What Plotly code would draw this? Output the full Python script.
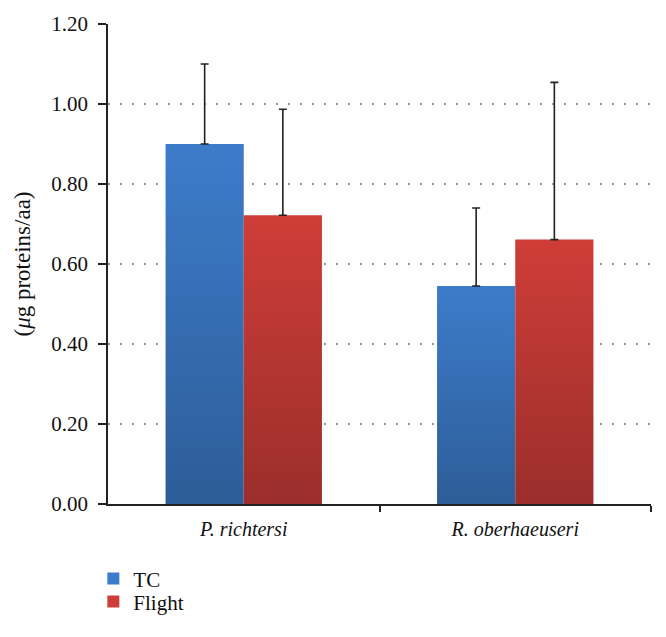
import plotly.graph_objects as go

categories = ["P. richtersi", "R. oberhaeuseri"]
series_names = ["TC", "Flight"]
tc_values = [0.90, 0.545]
flight_values = [0.722, 0.661]
tc_sd = [0.20, 0.195]
flight_sd = [0.265, 0.393]
y_tick_values = [0.0, 0.2, 0.4, 0.6, 0.8, 1.0, 1.2]
y_tick_labels = ["0.00", "0.20", "0.40", "0.60", "0.80", "1.00", "1.20"]

FONT = "Liberation Serif, Times New Roman, serif"
bar_w = 0.288  # width of one bar in category units
styles = {
    "TC": dict(top="#3d7cca", bottom="#2d5d98", offset=-1, legend="legend", ly=-0.113),
    "Flight": dict(top="#cf3d38", bottom="#9b2e2b", offset=0, legend="legend2", ly=-0.161),
}
series = {"TC": (tc_values, tc_sd), "Flight": (flight_values, flight_sd)}

fig = go.Figure()
for name in series_names:
    vals, sds = series[name]
    st = styles[name]
    for i, v in enumerate(vals):
        x0 = i + st["offset"] * bar_w
        x1 = x0 + bar_w
        fig.add_trace(go.Scatter(
            x=[x0, x1, x1, x0, x0], y=[0, 0, v, v, 0],
            mode="lines", fill="toself",
            line=dict(width=0, color=st["bottom"]),
            fillgradient=dict(type="vertical",
                              colorscale=[[0, st["bottom"]], [1, st["top"]]]),
            showlegend=False, hoverinfo="skip",
        ))
    # error bars (upper only)
    xs = [i + st["offset"] * bar_w + bar_w / 2 for i in range(len(vals))]
    fig.add_trace(go.Scatter(
        x=xs, y=vals, mode="markers",
        marker=dict(size=1, opacity=0),
        error_y=dict(type="data", symmetric=False, array=sds,
                     arrayminus=[0] * len(sds), color="#222222",
                     thickness=1.6, width=4),
        showlegend=False, hoverinfo="skip",
    ))

# legend entries
for name in series_names:
    st = styles[name]
    fig.add_trace(go.Bar(x=[None], y=[None], name=name, legend=st["legend"],
                         marker=dict(color=st["top"], line=dict(width=0))))

legend_common = dict(x=-0.027, xanchor="left", yanchor="top",
                     font=dict(family=FONT, size=21, color="#111111"),
                     bgcolor="rgba(0,0,0,0)")

# page body has an 8px default margin, so the figure is sized to fit the window
fig.update_layout(
    template="none",
    width=658, height=629,
    margin=dict(l=100, r=15, t=16, b=133, autoexpand=False),
    paper_bgcolor="white", plot_bgcolor="white",
    font=dict(family=FONT, size=20, color="#111111"),
    showlegend=True,
    legend=dict(y=styles["TC"]["ly"], **legend_common),
    legend2=dict(y=styles["Flight"]["ly"], **legend_common),
    xaxis=dict(
        range=[-0.5, 1.5],
        tickmode="array", tickvals=[0, 1],
        ticktext=["<i>" + c + "</i>" for c in categories],
        ticks="", showgrid=False, zeroline=False, automargin=False,
        ticklabelstandoff=6,
        showline=True, linecolor="#222222", linewidth=1.5,
        minor=dict(tickmode="array", tickvals=[0.5, 1.5], ticks="outside",
                   ticklen=6, tickwidth=1.5, tickcolor="#222222", showgrid=False),
        tickfont=dict(family=FONT, size=20),
        fixedrange=True,
    ),
    yaxis=dict(
        range=[0, 1.2],
        tickmode="array", tickvals=y_tick_values, ticktext=y_tick_labels,
        ticks="outside", ticklen=8, tickwidth=1.5, tickcolor="#222222",
        ticklabelstandoff=6,
        showline=True, linecolor="#222222", linewidth=1.5,
        showgrid=True, gridcolor="#999999", gridwidth=1.5, griddash="2px,10px",
        zeroline=False, automargin=False,
        title=dict(text="(<i>μ</i>g proteins/aa)", standoff=14,
                   font=dict(family=FONT, size=23)),
        tickfont=dict(family=FONT, size=21),
        fixedrange=True,
    ),
)

fig.write_html("out.html")
